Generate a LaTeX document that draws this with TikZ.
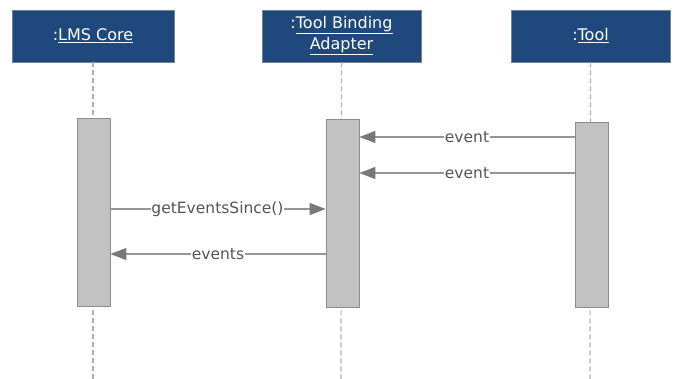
\documentclass[tikz,border=0pt]{standalone}
\usepackage{fontspec}
\setmainfont{DejaVu Sans}
\usetikzlibrary{arrows.meta}
\definecolor{hdrblue}{RGB}{31,73,125}
\definecolor{hdredge}{RGB}{120,130,145}
\definecolor{actfill}{RGB}{194,194,194}
\definecolor{actedge}{RGB}{140,140,140}
\definecolor{msgline}{RGB}{150,150,150}
\definecolor{msgtip}{RGB}{120,120,120}
\definecolor{msgtext}{RGB}{85,85,85}
\definecolor{lifeline}{RGB}{175,175,175}
\tikzset{
  header/.style={draw=hdredge, line width=0.8pt, fill=hdrblue, text=white,
    minimum width=162pt, minimum height=52pt, inner sep=0pt, align=center,
    font=\fontsize{16}{21}\selectfont},
  activation/.style={draw=actedge, line width=0.8pt, fill=actfill,
    minimum width=33pt, inner sep=0pt},
  lifeline/.style={draw=lifeline, line width=1.2pt, dash pattern=on 5pt off 3pt},
  message/.style={draw=msgline, line width=1.2pt,
    -{Triangle[length=16pt,width=12pt,fill=msgtip,color=msgtip]}},
  msglabel/.style={fill=white, text=msgtext, inner sep=0.5pt,
    font=\fontsize{15.5}{18}\selectfont}
}
\begin{document}
\begin{tikzpicture}[x=1pt,y=-1pt]
  \useasboundingbox (0,0) rectangle (677,379);

  % participants
  \node[header] (lms)  at (93,36)  {:\underline{LMS Core}};
  \node[header, minimum width=159pt] (tba) at (341.5,36) {:\underline{Tool Binding}\\\underline{Adapter}};
  \node[header, minimum width=159pt] (tool) at (590.5,36) {:\underline{Tool}};

  % lifeline ends
  \coordinate (lmsEnd)  at (93,379);
  \coordinate (tbaEnd)  at (341,379);
  \coordinate (toolEnd) at (590,379);

  % dashed lifelines
  \draw[lifeline] (lms.south)  -- (lmsEnd);
  \draw[lifeline] (tba.south)  -- (tbaEnd);
  \draw[lifeline] (tool.south) -- (toolEnd);

  % activation bars
  \node[activation, minimum height=188pt] (lmsAct)  at (93.5,212)  {};
  \node[activation, minimum height=188pt] (tbaAct)  at (342.5,213) {};
  \node[activation, minimum height=185pt] (toolAct) at (591.5,214.5) {};

  % messages
  \coordinate (e1s) at (toolAct.west |- 0,137);
  \coordinate (e1t) at (tbaAct.east |- 0,137);
  \coordinate (e2s) at (toolAct.west |- 0,173);
  \coordinate (e2t) at (tbaAct.east |- 0,173);
  \coordinate (g1s) at (lmsAct.east |- 0,209);
  \coordinate (g1t) at (tbaAct.west |- 0,209);
  \coordinate (r1s) at (tbaAct.west |- 0,254);
  \coordinate (r1t) at (lmsAct.east |- 0,254);

  \draw[message] (e1s) -- (e1t);
  \draw[message] (e2s) -- (e2t);
  \draw[message] (g1s) -- (g1t);
  \draw[message] (r1s) -- (r1t);

  \node[msglabel] (l1) at (467,137) {event};
  \node[msglabel] (l2) at (467,173) {event};
  \node[msglabel] (l3) at (217.5,209) {getEventsSince()};
  \node[msglabel] (l4) at (218,254) {events};
\end{tikzpicture}
\end{document}
